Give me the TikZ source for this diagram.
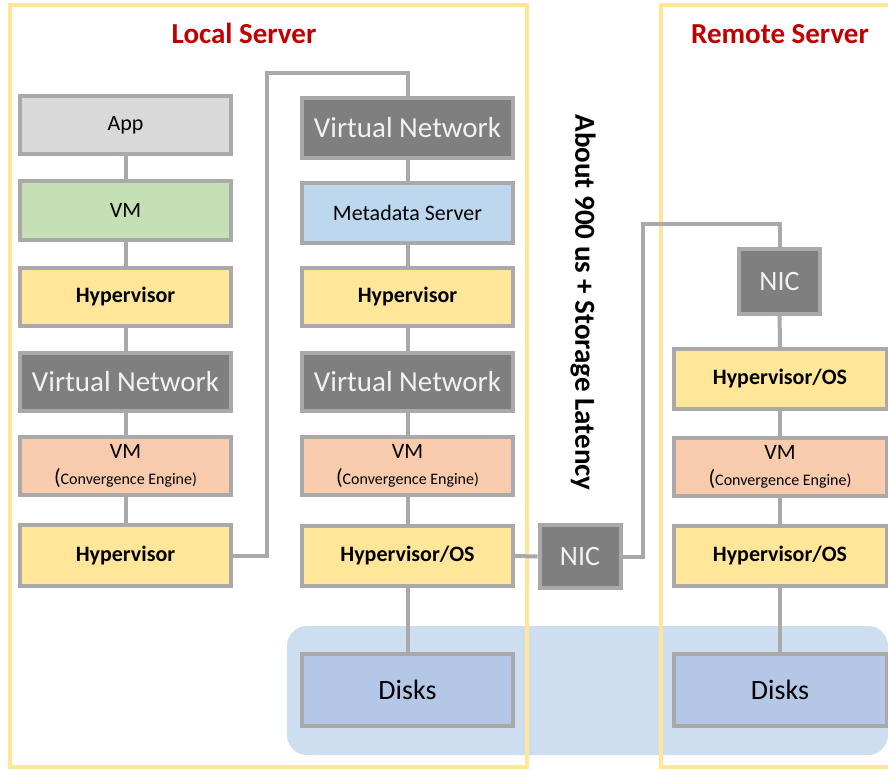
\documentclass[tikz,border=0pt]{standalone}
\usepackage{fontspec}
\setmainfont{Carlito}
\definecolor{boxline}{RGB}{170,168,168}
\definecolor{framey}{RGB}{255,230,153}
\definecolor{appfill}{RGB}{217,217,217}
\definecolor{vmfill}{RGB}{197,224,180}
\definecolor{hypfill}{RGB}{255,230,153}
\definecolor{darkfill}{RGB}{127,127,127}
\definecolor{lighttext}{RGB}{242,242,242}
\definecolor{cefill}{RGB}{248,203,173}
\definecolor{metafill}{RGB}{189,215,238}
\definecolor{diskfill}{RGB}{180,199,231}
\definecolor{poolfill}{RGB}{204,222,239}
\definecolor{titlered}{RGB}{192,0,0}
\tikzset{
  box/.style={draw=boxline, line width=4pt, minimum width=211pt, minimum height=58pt,
    inner sep=0pt, align=center, font=\fontsize{22}{26}\selectfont},
  appbox/.style={box, fill=appfill},
  vmbox/.style={box, fill=vmfill},
  metabox/.style={box, fill=metafill, minimum height=60pt},
  hypbox/.style={box, fill=hypfill, font=\bfseries\fontsize{22}{26}\selectfont},
  netbox/.style={box, fill=darkfill, text=lighttext, font=\fontsize{29}{33}\selectfont},
  cebox/.style={box, fill=cefill},
  diskbox/.style={box, fill=diskfill, minimum height=72pt, font=\fontsize{28}{32}\selectfont},
  nicbox/.style={box, fill=darkfill, text=lighttext, minimum width=81pt,
    font=\fontsize{28}{32}\selectfont},
  link/.style={draw=boxline, line width=4pt},
  frame/.style={draw=framey, line width=4pt},
  title/.style={text=titlered, font=\bfseries\fontsize{29}{33}\selectfont, anchor=base},
}
\newcommand{\celabel}{VM\\{(}{\fontsize{16}{18}\selectfont Convergence Engine)}}
\begin{document}
\begin{tikzpicture}[x=1pt,y=-1pt]
\useasboundingbox (0,0) rectangle (888,770);
\clip (0,0) rectangle (888,770);
\fill[white] (0,0) rectangle (888,770);

% shared storage pool
\fill[poolfill, rounded corners=20pt] (287,626) rectangle (888,755);

% server frames
\draw[frame] (10,5) rectangle (527,767);
\draw[frame] (661,5) rectangle (900,767);

\node[title] (tlocal) at (244,44) {Local Server};
\node[title] (tremote) at (780,44) {Remote Server};

% local server, guest stack
\node[appbox] (lapp) at (125.5,125) {App};
\node[vmbox] (lvm) at (125.5,210.5) {VM};
\node[hypbox] (lhyp1) at (125.5,297) {Hypervisor};
\node[netbox] (lvn) at (125.5,381.5) {Virtual Network};
\node[cebox] (lce) at (125.5,465.5) {\celabel};
\node[hypbox, minimum height=61pt] (lhyp2) at (125.5,555.5) {Hypervisor};

% local server, storage stack
\node[netbox, minimum height=60pt] (mvn1) at (407.5,128) {Virtual Network};
\node[metabox] (mmeta) at (407.5,213) {Metadata Server};
\node[hypbox] (mhyp1) at (407.5,297) {Hypervisor};
\node[netbox] (mvn2) at (407.5,381.5) {Virtual Network};
\node[cebox] (mce) at (407.5,465.5) {\celabel};
\node[hypbox, minimum height=60pt] (mhyp2) at (407.5,556) {Hypervisor/OS};
\node[diskbox] (mdisk) at (407.5,690) {Disks};

% network interface between servers
\node[nicbox, minimum height=63pt] (nic) at (580,556.5) {NIC};

% remote server
\node[nicbox, minimum height=65pt] (rnic) at (779.5,281.5) {NIC};
\node[hypbox, minimum width=213pt, minimum height=60pt] (rhyp1) at (780,379) {Hypervisor/OS};
\node[cebox, minimum width=213pt] (rce) at (780,466.5) {\celabel};
\node[hypbox, minimum width=213pt, minimum height=60pt] (rhyp2) at (780,556) {Hypervisor/OS};
\node[diskbox, minimum width=213pt] (rdisk) at (780,690) {Disks};

% latency annotation
\node[rotate=-90, font=\bfseries\fontsize{29}{33}\selectfont] (latency) at (583,302.5)
  {About 900 us + Storage Latency};

% stack connectors
\draw[link] (lapp) -- (lvm);
\draw[link] (lvm) -- (lhyp1);
\draw[link] (lhyp1) -- (lvn);
\draw[link] (lvn) -- (lce);
\draw[link] (lce) -- (lhyp2);
\draw[link] (mvn1) -- (mmeta);
\draw[link] (mmeta) -- (mhyp1);
\draw[link] (mhyp1) -- (mvn2);
\draw[link] (mvn2) -- (mce);
\draw[link] (mce) -- (mhyp2);
\draw[link] (mhyp2) -- (mdisk);
\draw[link] (rnic) -- (rhyp1);
\draw[link] (rhyp1) -- (rce);
\draw[link] (rce) -- (rhyp2);
\draw[link] (rhyp2) -- (rdisk);

% routed connectors
\coordinate (bendA) at (267,73);
\coordinate (bendB) at (643,224);
\draw[link] (lhyp2.east) -| (bendA) -| (mvn1.north);
\draw[link] (mhyp2.east) -- (nic.west);
\draw[link] (nic.east) -| (bendB) -| (rnic.north);
\end{tikzpicture}
\end{document}
